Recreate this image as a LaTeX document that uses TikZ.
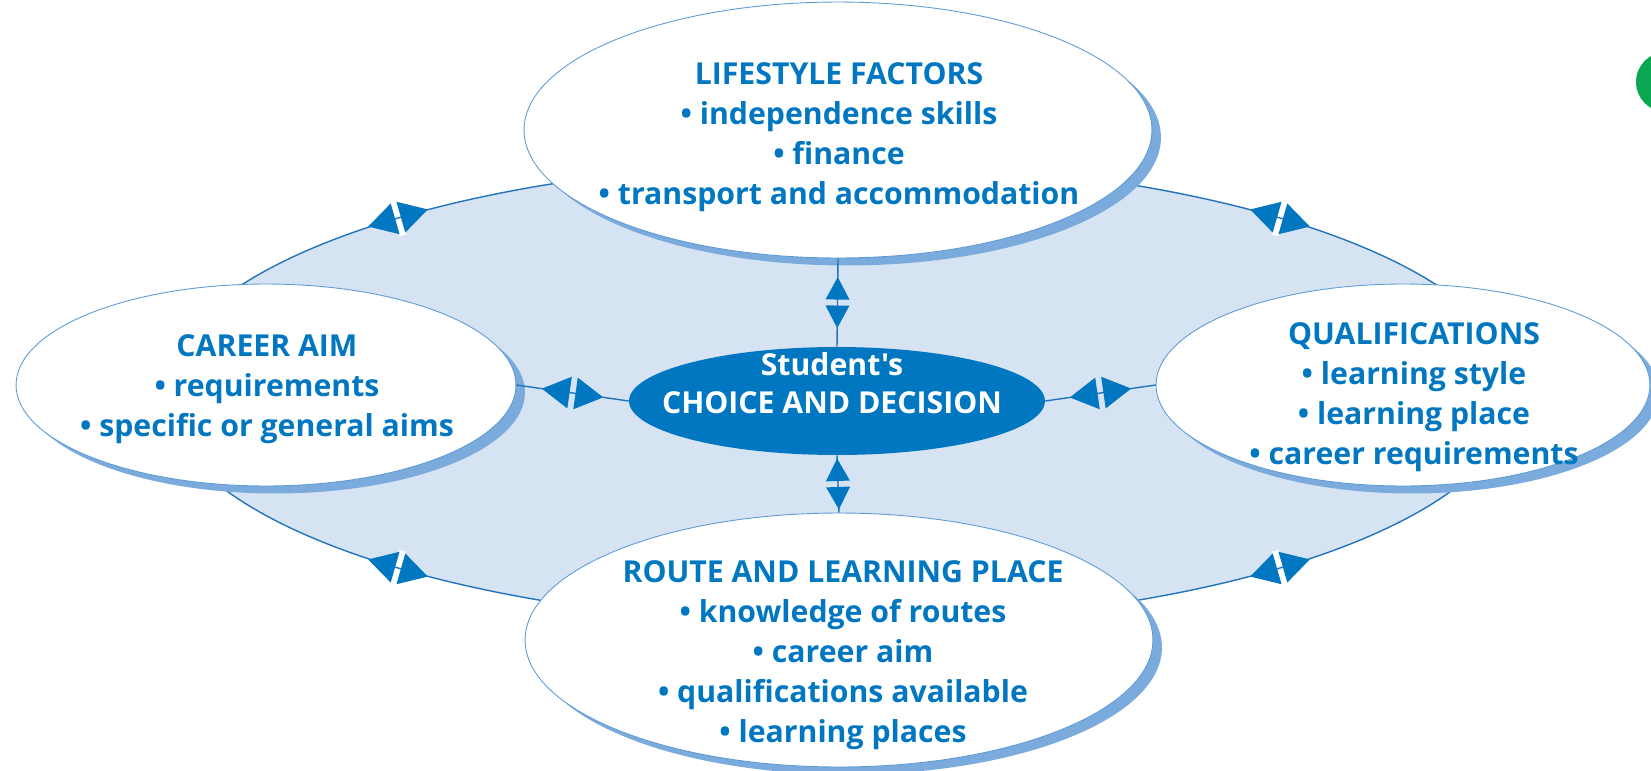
\documentclass[tikz,border=0pt]{standalone}
\usepackage{fontspec}
\setmainfont{Open Sans}[Ligatures=TeXOff]
\usetikzlibrary{shapes.geometric,shadows}
\definecolor{tblue}{HTML}{0077C0}
\definecolor{bgblue}{HTML}{D6E3F3}
\definecolor{lineblue}{HTML}{2374BF}
\definecolor{rimblue}{HTML}{5E9BD6}
\definecolor{shadowblue}{HTML}{7BAADC}
\definecolor{dotgreen}{HTML}{0BA652}
\tikzset{
  pics/dblh/.style={code={
    \fill[tblue] (-31,0) -- (-3,-16) -- (-3,16) -- cycle;
    \fill[tblue] (31,0) -- (3,-16) -- (3,16) -- cycle;
  }},
  pics/dblv/.style={code={
    \fill[tblue] (-25.5,0) -- (-3,-12) -- (-3,12) -- cycle;
    \fill[tblue] (25.5,0) -- (3,-12) -- (3,12) -- cycle;
  }},
  pics/dblw/.style={code={
    \fill[white] (-3.5,-18) rectangle (3.5,18);
    \draw[lineblue, line width=0.8pt] (-3.5,0) -- (3.5,0);
    \fill[tblue] (-31,0) -- (-3,-16) -- (-3,16) -- cycle;
    \fill[tblue] (31,0) -- (3,-16) -- (3,16) -- cycle;
  }}
}
\begin{document}
\begin{tikzpicture}[x=0.02cm,y=-0.02cm,
  oval/.style={ellipse, draw=rimblue, line width=0.5pt, fill=white, inner sep=0pt,
    drop shadow={shadow xshift=0.18cm, shadow yshift=-0.15cm, fill=shadowblue, opacity=1}},
  lbl/.style={text=tblue, font=\bfseries\fontsize{17.2}{22.8}\selectfont, align=center, inner sep=0pt, anchor=north},
  link/.style={draw=lineblue, line width=0.8pt},
]
\useasboundingbox (0,0) rectangle (1651,771);
% background ring
\draw[fill=bgblue, draw=lineblue, line width=0.8pt] (839,393) ellipse [x radius=13.52cm, y radius=4.62cm];
% ellipses
\node[oval, minimum width=12.56cm, minimum height=5.12cm] (life) at (838,130) {};
\node[oval, minimum width=12.56cm, minimum height=5.08cm] (route) at (839,640) {};
\node[oval, minimum width=10cm, minimum height=4.04cm] (career) at (266,385) {};
\node[oval, minimum width=9.88cm, minimum height=4.04cm] (quals) at (1403,385) {};
\node[ellipse, fill=tblue, inner sep=0pt, minimum width=8.32cm, minimum height=2.16cm] (center) at (837,401) {};
% connectors
\draw[link] (career.east) -- (center.west) pic[pos=0.5, sloped]{dblh};
\draw[link] (center.east) -- (quals.west) pic[pos=0.5, sloped]{dblh};
\draw[link] (life.south) -- (center.north) pic[pos=0.5, sloped]{dblv};
\draw[link] (center.south) -- (route.north) pic[pos=0.5, sloped]{dblv};
% arrows on the ring
\pic[rotate=16] at (398,218) {dblw};
\pic[rotate=-16] at (1280,218) {dblw};
\pic[rotate=-16] at (398,568) {dblw};
\pic[rotate=16] at (1280,568) {dblw};
% texts
\node[lbl] (lifeT) at (839,62) {LIFESTYLE FACTORS\\• independence skills\\• finance\\• transport and accommodation};
\node[lbl] (careerT) at (267,334) {CAREER AIM\\• requirements\\• specific or general aims};
\node[lbl] (qualsT) at (1414,322) {QUALIFICATIONS\\• learning style\\• learning place\\• career requirements};
\node[lbl] (routeT) at (843,560) {ROUTE AND LEARNING PLACE\\• knowledge of routes\\• career aim\\• qualifications available\\• learning places};
\node[lbl, text=white, font=\bfseries\fontsize{17.2}{21.6}\selectfont] (centerT) at (832,352) {Student's\\CHOICE AND DECISION};
% green dot at the edge
\node[circle, fill=dotgreen, inner sep=0pt, minimum size=1.2cm] (dot) at (1666,82) {};
\end{tikzpicture}
\end{document}
